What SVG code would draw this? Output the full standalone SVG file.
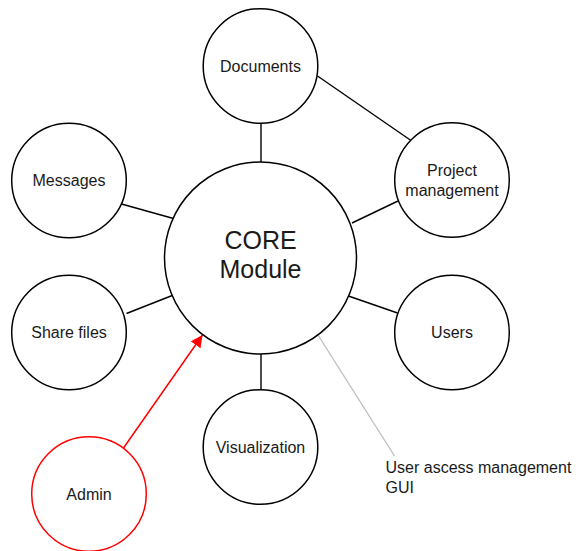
<svg xmlns="http://www.w3.org/2000/svg" width="576" height="551" viewBox="0 0 576 551">
<defs>
<style>
.n{fill:#fff;stroke:#000;stroke-width:1.5}
.r{fill:#fff;stroke:#f00;stroke-width:1.5}
.t{font-family:"Liberation Sans",Arial,sans-serif;font-size:16px;fill:#1a1a1a;text-anchor:middle}
.big{font-size:25px}
.e{stroke:#000;stroke-width:1.4;fill:none}
.g{stroke:#c0c0c0;stroke-width:1.4;fill:none}
.a{stroke:#f00;stroke-width:1.5;fill:none}
</style>
<marker id="ah" viewBox="0 0 10 10" refX="10" refY="5" markerWidth="12" markerHeight="12" markerUnits="userSpaceOnUse" orient="auto">
<path d="M0,0 L10,5 L0,10 z" fill="#f00"/>
</marker>
</defs>
<rect width="576" height="551" fill="#fff"/>
<g id="connectors">
<line class="e" x1="261" y1="123" x2="261" y2="162"/>
<line class="e" x1="317.5" y1="76" x2="411" y2="140.5"/>
<line class="e" x1="352" y1="223" x2="398" y2="201"/>
<line class="e" x1="121.5" y1="204" x2="173.5" y2="218.5"/>
<line class="e" x1="126.5" y1="313.5" x2="173.5" y2="295"/>
<line class="e" x1="347" y1="295.5" x2="397.5" y2="313"/>
<line class="e" x1="261" y1="353" x2="261" y2="390"/>
<line class="g" x1="318" y1="335" x2="394.5" y2="456"/>
<line class="a" x1="123.5" y1="448" x2="202.5" y2="335" marker-end="url(#ah)"/>
</g>
<g id="core">
<circle class="n" cx="260.5" cy="258" r="96"/>
<text class="t big" x="260.5" y="249">CORE</text>
<text class="t big" x="260.5" y="278">Module</text>
</g>
<g id="documents">
<circle class="n" cx="260.5" cy="66" r="57.3"/>
<text class="t" x="260.5" y="71.5">Documents</text>
</g>
<g id="project">
<circle class="n" cx="452" cy="180" r="57.3"/>
<text class="t" x="452" y="176">Project</text>
<text class="t" x="452" y="195.5">management</text>
</g>
<g id="messages">
<circle class="n" cx="69" cy="180.5" r="57.3"/>
<text class="t" x="69" y="186">Messages</text>
</g>
<g id="sharefiles">
<circle class="n" cx="69" cy="332.5" r="57.3"/>
<text class="t" x="69" y="338">Share files</text>
</g>
<g id="users">
<circle class="n" cx="452" cy="332.5" r="57.3"/>
<text class="t" x="452" y="338">Users</text>
</g>
<g id="visualization">
<circle class="n" cx="260.5" cy="447" r="57.3"/>
<text class="t" x="260.5" y="453">Visualization</text>
</g>
<g id="admin">
<circle class="r" cx="89" cy="494" r="57.3"/>
<text class="t" x="89" y="500">Admin</text>
</g>
<g id="note">
<text class="t" x="385.5" y="472.5" style="text-anchor:start">User ascess management</text>
<text class="t" x="385.5" y="493" style="text-anchor:start">GUI</text>
</g>
</svg>
